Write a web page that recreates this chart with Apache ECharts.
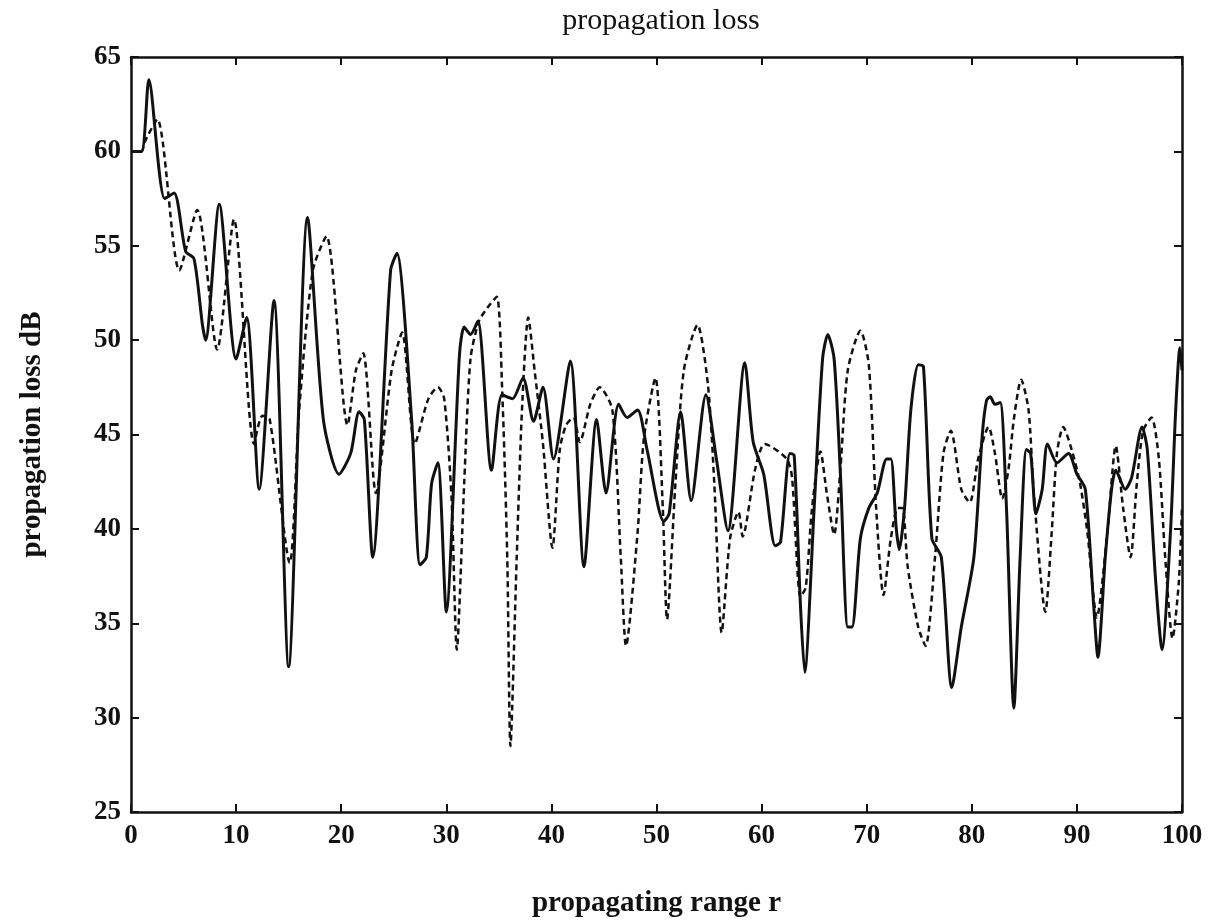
<!DOCTYPE html>
<html>
<head>
<meta charset="utf-8">
<script src="https://cdn.jsdelivr.net/npm/echarts@6/dist/echarts.min.js"></script>
<style>
  html, body { margin: 0; padding: 0; background: #fff; }
  #chart { width: 1208px; height: 923px; }
</style>
</head>
<body>
<div id="chart"></div>
<script>
// ---- data ----
const titleText = 'propagation loss';
const xName = 'propagating range r';
const yName = 'propagation loss dB';

const xTicks = { min: 0, max: 100, interval: 10 };
const yTicks = { min: 25, max: 65, interval: 5 };

// solid curve
const solidX = [0, 1.0, 1.7, 3.2, 4.1, 5.2, 6.0, 6.8, 7.1, 8.4, 10.0, 11.0, 12.2, 13.6, 15.0, 16.8, 18.3, 19.8, 20.9, 21.7,
  22.2, 23.0, 24.7, 25.3, 26.7, 27.5, 28.1, 28.6, 29.2, 30.0, 31.25, 31.7, 32.3, 33.0, 34.3, 35.3, 36.3, 37.3, 38.3, 39.2,
  40.2, 41.8, 43.1, 44.3, 45.2, 46.4, 47.2, 48.2, 49.1, 50.7, 51.2, 52.3, 53.3, 54.7, 55.7, 56.8, 58.4, 59.2, 60.2, 61.3,
  61.8, 62.7, 63.1, 63.7, 64.1, 65.0, 65.8, 66.3, 66.9, 67.5, 68.2, 68.6, 69.4, 70.2, 71.0, 71.9, 72.3, 72.8, 73.1, 73.6,
  74.2, 74.9, 75.4, 76.2, 77.1, 78.1, 79.0, 80.2, 81.0, 81.4, 81.75, 82.2, 82.7, 83.3, 84.0, 84.6, 85.2, 85.6, 86.1, 86.7,
  87.2, 88.1, 89.2, 90.0, 90.8, 91.6, 92.0, 92.7, 93.3, 93.7, 94.6, 95.2, 96.2, 96.7, 97.5, 98.1, 98.9, 99.4, 99.8, 100];
const solidY = [60, 60, 63.8, 57.5, 57.8, 54.7, 54.3, 50.8, 50.0, 57.2, 49.0, 51.2, 42.1, 52.1, 32.7, 56.5, 45.8, 42.9, 44.0, 46.2,
  45.8, 38.5, 53.7, 54.6, 45.8, 38.1, 38.5, 42.4, 43.5, 35.6, 49.2, 50.7, 50.3, 51.0, 43.1, 47.1, 46.9, 48.0, 45.7, 47.5,
  43.7, 48.9, 38.0, 45.8, 41.9, 46.6, 45.9, 46.3, 44.2, 40.4, 40.8, 46.2, 41.5, 47.1, 43.7, 39.9, 48.8, 44.6, 42.9, 39.1,
  39.3, 44.0, 43.9, 35.9, 32.4, 41.1, 49.0, 50.3, 49.0, 42.9, 34.8, 34.8, 39.5, 41.1, 41.9, 43.7, 43.7, 40.1, 38.9, 41.1,
  46.3, 48.7, 48.6, 39.5, 38.5, 31.6, 34.8, 38.5, 45.0, 46.8, 47.0, 46.6, 46.7, 41.1, 30.5, 38.5, 44.2, 44.0, 40.8, 42.1,
  44.5, 43.5, 44.0, 42.9, 42.1, 35.9, 33.2, 38.5, 42.1, 43.1, 42.1, 42.7, 45.4, 44.2, 37.2, 33.6, 39.8, 46.3, 49.6, 48.4];

// dashed curve
const dashedX = [0, 1.0, 1.3, 2.5, 4.6, 6.3, 8.2, 9.8, 11.7, 12.5, 13.2, 15.1, 16.0, 17.3, 18.6, 20.6, 21.4, 22.1, 23.3, 24.8,
  25.8, 27.0, 28.3, 29.2, 29.8, 30.5, 31.0, 31.7, 32.3, 33.1, 33.9, 34.8, 35.3, 35.8, 36.1, 36.7, 37.2, 37.8, 38.4, 39.2,
  40.1, 40.8, 41.4, 42.1, 42.7, 43.7, 44.6, 45.8, 46.6, 47.1, 48.2, 48.8, 49.9, 50.6, 51.0, 51.8, 52.6, 53.9, 54.9, 55.5,
  56.2, 57.0, 57.8, 58.2, 59.4, 60.3, 62.4, 62.9, 63.7, 64.2, 64.8, 65.6, 66.2, 66.9, 67.5, 68.2, 69.4, 70.2, 70.9, 71.6,
  72.3, 72.96, 73.4, 73.9, 74.9, 75.6, 76.5, 77.3, 78.0, 79.0, 79.8, 80.6, 81.6, 82.2, 82.9, 83.5, 84.0, 84.7, 85.4, 85.9,
  87.0, 87.6, 88.1, 88.7, 89.5, 90.3, 91.0, 91.9, 92.9, 93.7, 94.4, 95.1, 95.7, 96.3, 97.1, 97.8, 98.4, 99.1, 99.7, 100];
const dashedY = [60, 60, 60.5, 61.7, 53.7, 56.9, 49.5, 56.4, 44.5, 46.0, 45.8, 38.2, 46.3, 53.7, 55.5, 45.5, 48.4, 49.3, 41.9, 48.4,
  50.4, 44.5, 46.9, 47.5, 46.9, 41.6, 33.6, 42.4, 49.0, 51.0, 51.7, 52.3, 47.6, 38.5, 28.5, 38.5, 46.3, 51.2, 48.4, 44.5,
  39.0, 44.2, 45.5, 45.9, 44.6, 46.6, 47.5, 46.3, 38.5, 33.8, 39.8, 44.8, 48.0, 41.1, 35.2, 42.4, 48.4, 50.8, 47.6, 42.4,
  34.5, 39.5, 40.9, 39.6, 43.2, 44.5, 43.7, 42.7, 36.4, 36.9, 41.1, 44.1, 41.9, 39.7, 43.2, 48.4, 50.5, 48.7, 41.1, 36.5,
  39.5, 41.1, 41.1, 38.0, 34.8, 33.8, 38.5, 44.0, 45.2, 42.1, 41.4, 43.7, 45.4, 44.0, 41.6, 43.2, 45.8, 47.9, 46.3, 41.9,
  35.6, 39.8, 44.0, 45.4, 44.2, 42.4, 39.8, 35.3, 39.8, 44.4, 41.1, 38.5, 42.4, 45.2, 45.9, 43.7, 38.5, 34.2, 37.2, 41.1];

// ---- chart ----
const pairs = (xs, ys) => xs.map((x, i) => [x, ys[i]]);
const serif = '"Liberation Serif", "DejaVu Serif", serif';
const ink = '#111';

const baseAxis = {
  axisLine: { show: true, onZero: false, lineStyle: { color: ink, width: 2.5 } },
  axisTick: { show: true, inside: true, length: 8, lineStyle: { color: ink, width: 2 } },
  splitLine: { show: false }
};

const chart = echarts.init(document.getElementById('chart'), null, { renderer: 'canvas' });
chart.setOption({
  backgroundColor: '#ffffff',
  animation: false,
  title: {
    text: titleText,
    left: 656,
    top: 1,
    textAlign: 'center',
    textStyle: { fontFamily: serif, fontWeight: 'normal', fontSize: 30, color: ink }
  },
  grid: { left: 131, right: 26, top: 57, bottom: 111, containLabel: false },
  xAxis: [
    Object.assign({}, baseAxis, {
      type: 'value', position: 'bottom',
      min: xTicks.min, max: xTicks.max, interval: xTicks.interval,
      name: xName, nameLocation: 'middle', nameGap: 77,
      nameTextStyle: { fontFamily: serif, fontWeight: 'bold', fontSize: 29, color: ink },
      axisLabel: { fontFamily: serif, fontWeight: 'bold', fontSize: 27, color: ink, margin: 11 }
    }),
    Object.assign({}, baseAxis, {
      type: 'value', position: 'top',
      min: xTicks.min, max: xTicks.max, interval: xTicks.interval,
      axisLabel: { show: false }
    })
  ],
  yAxis: [
    Object.assign({}, baseAxis, {
      type: 'value', position: 'left',
      min: yTicks.min, max: yTicks.max, interval: yTicks.interval,
      name: yName, nameLocation: 'middle', nameGap: 84, nameRotate: 90,
      nameTextStyle: { fontFamily: serif, fontWeight: 'bold', fontSize: 29, color: ink },
      axisLabel: { fontFamily: serif, fontWeight: 'bold', fontSize: 27, color: ink, margin: 10 }
    }),
    Object.assign({}, baseAxis, {
      type: 'value', position: 'right',
      min: yTicks.min, max: yTicks.max, interval: yTicks.interval,
      axisLabel: { show: false }
    })
  ],
  series: [
    {
      type: 'line', name: 'dashed', xAxisIndex: 0, yAxisIndex: 0,
      data: pairs(dashedX, dashedY),
      showSymbol: false, smooth: 0.25,
      lineStyle: { color: ink, width: 2.5, type: [6, 4] },
      z: 2
    },
    {
      type: 'line', name: 'solid', xAxisIndex: 0, yAxisIndex: 0,
      data: pairs(solidX, solidY),
      showSymbol: false, smooth: 0.25,
      lineStyle: { color: ink, width: 3 },
      z: 3
    }
  ]
});
</script>
</body>
</html>
